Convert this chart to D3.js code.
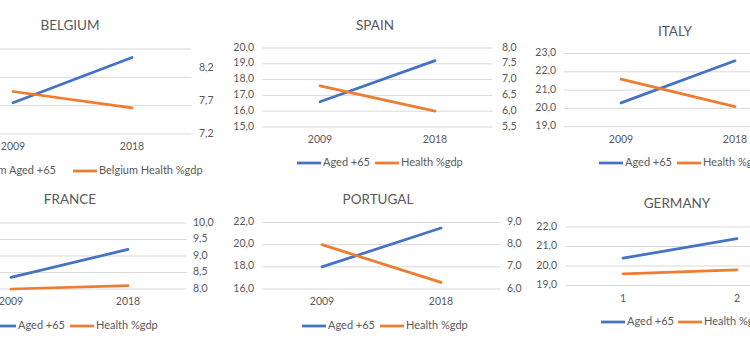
<!DOCTYPE html>
<html><head><meta charset="utf-8">
<script src="https://cdn.jsdelivr.net/npm/d3@7"></script>
<style>html,body{margin:0;padding:0;background:#fff;overflow:hidden}</style>
</head><body><svg id="chart" width="750" height="357"></svg>
<script>
// ---- data ----
const categories = ["2009", "2018"];
const germanyCategories = ["1", "2"];

const belgiumAged = [17.1, 18.7];
const belgiumHealth = [7.85, 7.6];
const spainAged = [16.6, 19.2];
const spainHealth = [6.8, 6.0];
const italyAged = [20.3, 22.6];
const italyHealth = [9.3, 8.55];
const franceAged = [16.7, 18.4];
const franceHealth = [8.0, 8.1];
const portugalAged = [18.0, 21.5];
const portugalHealth = [8.0, 6.3];
const germanyAged = [20.4, 21.4];
const germanyHealth = [11.1, 11.3];

const belgiumLeftTicks = [16, 17, 18, 19];
const belgiumRightTicks = [7.2, 7.7, 8.2];
const spainLeftTicks = [15, 16, 17, 18, 19, 20];
const spainRightTicks = [5.5, 6.0, 6.5, 7.0, 7.5, 8.0];
const italyLeftTicks = [19, 20, 21, 22, 23];
const italyRightTicks = [8.0, 8.5, 9.0, 9.5, 10.0];
const franceLeftTicks = [16, 17, 18, 19, 20];
const franceRightTicks = [8.0, 8.5, 9.0, 9.5, 10.0];
const portugalLeftTicks = [16, 18, 20, 22];
const portugalRightTicks = [6, 7, 8, 9];
const germanyLeftTicks = [19, 20, 21, 22];
const germanyRightTicks = [10.5, 11.5, 12.5, 13.5];

const titles = ["BELGIUM", "SPAIN", "ITALY", "FRANCE", "PORTUGAL", "GERMANY"];
const agedLabels = ["Belgium Aged +65", "Aged +65", "Aged +65", "Aged +65", "Aged +65", "Aged +65"];
const healthLabels = ["Belgium Health %gdp", "Health %gdp", "Health %gdp", "Health %gdp", "Health %gdp", "Health %gdp"];

// ---- layout (positions only) ----
const layouts = [
  {x0: -46.5, x1: 191.5, top: 49, bottom: 134, titleX: 70, titleY: 30, leftLabelX: -55, rightLabelX: 199, legendY: 171, agedTextEnd: 56, healthLineX: 73, rightDomainMax: 8.5},
  {x0: 262.5, x1: 492.5, top: 48, bottom: 127, titleX: 375, titleY: 30, leftLabelX: 254, rightLabelX: 502, legendY: 163, agedLineX: 297, healthLineX: 375},
  {x0: 564, x1: 792, top: 53.5, bottom: 126.7, titleX: 675, titleY: 36, leftLabelX: 556, rightLabelX: 800, legendY: 163, agedLineX: 599, healthLineX: 677},
  {x0: -47.5, x1: 186.5, top: 223, bottom: 289, titleX: 70, titleY: 204, leftLabelX: -56, rightLabelX: 193, legendY: 326, agedTextStart: 18, healthLineX: 70},
  {x0: 262.5, x1: 500.5, top: 222.5, bottom: 289, titleX: 378, titleY: 204, leftLabelX: 254, rightLabelX: 507, legendY: 326, agedLineX: 302, healthLineX: 380},
  {x0: 566, x1: 794, top: 227, bottom: 285.5, titleX: 677, titleY: 208, leftLabelX: 557, rightLabelX: 802, legendY: 322, agedLineX: 601, healthLineX: 678}
];

const panels = [
  {cats: categories, aged: belgiumAged, health: belgiumHealth, lt: belgiumLeftTicks, rt: belgiumRightTicks},
  {cats: categories, aged: spainAged, health: spainHealth, lt: spainLeftTicks, rt: spainRightTicks},
  {cats: categories, aged: italyAged, health: italyHealth, lt: italyLeftTicks, rt: italyRightTicks},
  {cats: categories, aged: franceAged, health: franceHealth, lt: franceLeftTicks, rt: franceRightTicks},
  {cats: categories, aged: portugalAged, health: portugalHealth, lt: portugalLeftTicks, rt: portugalRightTicks},
  {cats: germanyCategories, aged: germanyAged, health: germanyHealth, lt: germanyLeftTicks, rt: germanyRightTicks}
];

const BLUE = "#4472c4", ORANGE = "#ed7d31", TEXT = "#595959", GRID = "#d9d9d9";
const FONT = "Lato, 'Open Sans', sans-serif";
const W = 750;
const locale = d3.formatLocale({decimal: ",", thousands: ".", grouping: [3], currency: ["", "€"]});
const fmt = locale.format(".1f");

const svg = d3.select("#chart");
svg.append("rect").attr("width", 750).attr("height", 357).attr("fill", "#fff");

panels.forEach((p, i) => {
  const L = layouts[i];
  const g = svg.append("g");
  const x = d3.scaleBand().domain(p.cats).range([L.x0, L.x1]);
  const cx = c => x(c) + x.bandwidth() / 2;
  const yL = d3.scaleLinear().domain(d3.extent(p.lt)).range([L.bottom, L.top]);
  const yR = d3.scaleLinear().domain([d3.min(p.rt), L.rightDomainMax || d3.max(p.rt)]).range([L.bottom, L.top]);

  // gridlines
  g.selectAll(".grid").data(p.lt).join("line")
    .attr("x1", L.x0).attr("x2", L.x1)
    .attr("y1", d => yL(d)).attr("y2", d => yL(d))
    .attr("stroke", GRID).attr("stroke-width", 1);

  // left tick labels (only when inside the visible frame, as in the cropped original)
  if (L.leftLabelX > 0) {
    g.selectAll(".lt").data(p.lt).join("text")
      .attr("x", L.leftLabelX).attr("y", d => yL(d))
      .attr("text-anchor", "end").attr("dominant-baseline", "middle")
      .attr("font-family", FONT).attr("font-size", 10.5).attr("fill", TEXT)
      .text(d => fmt(d));
  }

  // right tick labels
  if (L.rightLabelX < W) {
    g.selectAll(".rt").data(p.rt).join("text")
      .attr("x", L.rightLabelX).attr("y", d => yR(d))
      .attr("text-anchor", "start").attr("dominant-baseline", "middle")
      .attr("font-family", FONT).attr("font-size", 10.5).attr("fill", TEXT)
      .text(d => fmt(d));
  }

  // category labels
  g.selectAll(".cat").data(p.cats).join("text")
    .attr("x", d => cx(d)).attr("y", L.bottom + 13.5)
    .attr("text-anchor", "middle").attr("dominant-baseline", "middle")
    .attr("font-family", FONT).attr("font-size", 10.5).attr("fill", TEXT)
    .text(d => d);

  // title
  g.append("text").attr("x", L.titleX).attr("y", L.titleY)
    .attr("text-anchor", "middle")
    .attr("font-family", FONT).attr("font-size", 13.5).attr("fill", TEXT)
    .text(titles[i]);

  // lines
  const lineL = d3.line().x((d, k) => cx(p.cats[k])).y(d => yL(d));
  const lineR = d3.line().x((d, k) => cx(p.cats[k])).y(d => yR(d));
  g.append("path").attr("d", lineL(p.aged)).attr("fill", "none")
    .attr("stroke", BLUE).attr("stroke-width", 2.75).attr("stroke-linecap", "round");
  g.append("path").attr("d", lineR(p.health)).attr("fill", "none")
    .attr("stroke", ORANGE).attr("stroke-width", 2.75).attr("stroke-linecap", "round");

  // legend
  const ly = L.legendY;
  const agedText = g.append("text")
    .attr("y", ly).attr("dominant-baseline", "middle")
    .attr("font-family", FONT).attr("font-size", 11).attr("fill", TEXT)
    .text(agedLabels[i]);
  let agedLineX;
  if (L.agedTextEnd !== undefined) {
    const w = agedText.node().getComputedTextLength();
    agedLineX = L.agedTextEnd - w - 26;
  } else if (L.agedTextStart !== undefined) {
    agedLineX = L.agedTextStart - 26;
  } else {
    agedLineX = L.agedLineX;
  }
  agedText.attr("x", agedLineX + 26);
  g.append("line").attr("x1", agedLineX).attr("x2", agedLineX + 24)
    .attr("y1", ly).attr("y2", ly).attr("stroke", BLUE).attr("stroke-width", 2.75);

  g.append("line").attr("x1", L.healthLineX).attr("x2", L.healthLineX + 24)
    .attr("y1", ly).attr("y2", ly).attr("stroke", ORANGE).attr("stroke-width", 2.75);
  g.append("text").attr("x", L.healthLineX + 26)
    .attr("y", ly).attr("dominant-baseline", "middle")
    .attr("font-family", FONT).attr("font-size", 11).attr("fill", TEXT)
    .text(healthLabels[i]);
});
</script>
</body></html>
